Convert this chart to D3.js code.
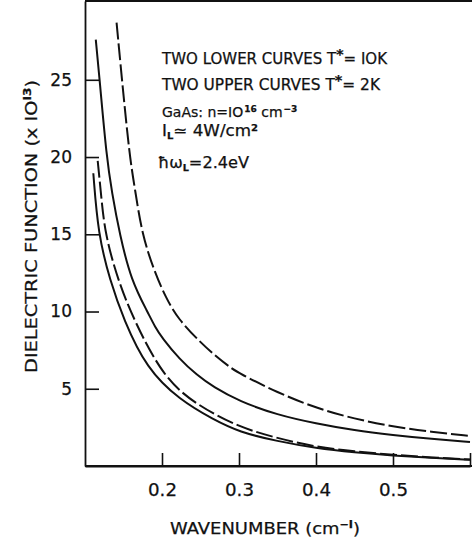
<!DOCTYPE html>
<head>
  <meta charset="utf-8">
  <title>Dielectric function vs wavenumber</title>
  <style>
    body { margin: 0; background: #fff; }
    svg text { font-family: "DejaVu Sans", Arial, sans-serif; fill: #111; stroke: #111; stroke-width: 0.25px; }
  </style>
  <script src="https://cdn.jsdelivr.net/npm/d3@7"></script>
</head>
<body>
  <script>
    // values (wavenumber in cm^-1, dielectric function x10^13)
    var upperDashX = [0.141, 0.148, 0.158, 0.165, 0.174, 0.19, 0.205, 0.221, 0.25, 0.27, 0.288, 0.3, 0.35, 0.4, 0.45, 0.5, 0.55, 0.6];
    var upperDashY = [28.7, 25, 20, 17.9, 15, 12.6, 10.9, 9.5, 8.0, 7.1, 6.4, 6.0, 4.75, 3.75, 3.05, 2.55, 2.2, 1.95];

    var upperSolidX = [0.114, 0.119, 0.128, 0.135, 0.145, 0.16, 0.182, 0.191, 0.2, 0.223, 0.245, 0.267, 0.3, 0.35, 0.4, 0.45, 0.5, 0.55, 0.6];
    var upperSolidY = [27.6, 25, 20, 17.7, 15, 12.0, 9.9, 9.0, 8.3, 6.9, 5.9, 5.1, 4.2, 3.3, 2.75, 2.3, 2.0, 1.75, 1.55];

    var lowerDashX = [0.1165, 0.121, 0.126, 0.143, 0.163, 0.202, 0.245, 0.3, 0.35, 0.4, 0.45, 0.5, 0.55, 0.6];
    var lowerDashY = [19.75, 17.5, 15, 12, 9.5, 5.7, 3.95, 2.5, 1.8, 1.22, 0.95, 0.72, 0.55, 0.42];

    var lowerSolidX = [0.1108, 0.117, 0.1325, 0.15, 0.18, 0.223, 0.267, 0.3, 0.35, 0.4, 0.45, 0.5, 0.55, 0.6];
    var lowerSolidY = [18.95, 15, 12, 9.5, 6.3, 4.27, 3.0, 2.2, 1.6, 1.15, 0.88, 0.68, 0.52, 0.4];

    var xTicks = [0.2, 0.3, 0.4, 0.5, 0.6];
    var yTicks = [5, 10, 15, 20, 25];

    var width = 472, height = 541;

    var svg = d3.select("body").append("svg")
      .attr("width", width)
      .attr("height", height);

    var xScale = d3.scaleLinear().domain([0.1, 0.6]).range([85, 470]);
    var yScale = d3.scaleLinear().domain([0, 30.1]).range([466, 1]);

    // axes, ticks pointing inward
    var xAxis = svg.append("g")
      .attr("transform", "translate(0,466)")
      .call(d3.axisBottom(xScale)
        .tickValues(xTicks)
        .tickSize(-13)
        .tickSizeOuter(0)
        .tickPadding(18)
        .tickFormat(d => d >= 0.6 ? "" : d3.format(".1f")(d)));

    var yAxis = svg.append("g")
      .attr("transform", "translate(85,0)")
      .call(d3.axisLeft(yScale)
        .tickValues(yTicks)
        .tickSize(-14)
        .tickSizeOuter(0)
        .tickPadding(13));

    [xAxis, yAxis].forEach(function (ax) {
      ax.select(".domain").attr("stroke", "#111").attr("stroke-width", 1.8);
      ax.selectAll(".tick line").attr("stroke", "#111").attr("stroke-width", 1.6);
      ax.selectAll(".tick text")
        .style("font-size", "17px")
        .style("font-family", "DejaVu Sans, Arial, sans-serif")
        .attr("fill", "#111");
    });
    xAxis.selectAll(".tick text").attr("textLength", 29).attr("lengthAdjust", "spacingAndGlyphs");

    // extend bottom axis to the edge, top frame line
    svg.append("line")
      .attr("x1", 85).attr("x2", width)
      .attr("y1", 466).attr("y2", 466)
      .attr("stroke", "#111").attr("stroke-width", 1.8);
    svg.append("line")
      .attr("x1", 85).attr("x2", width)
      .attr("y1", yScale(30.1)).attr("y2", yScale(30.1))
      .attr("stroke", "#111").attr("stroke-width", 2);

    var line = d3.line()
      .x(d => xScale(d[0]))
      .y(d => yScale(d[1]))
      .curve(d3.curveBasis);

    var curves = [
      {xs: upperDashX, ys: upperDashY, dash: "17,4"},
      {xs: upperSolidX, ys: upperSolidY, dash: null},
      {xs: lowerDashX, ys: lowerDashY, dash: "17,4"},
      {xs: lowerSolidX, ys: lowerSolidY, dash: null}
    ];

    curves.forEach(function (c) {
      var pts = c.xs.map((x, i) => [x, c.ys[i]]);
      svg.append("path")
        .datum(pts)
        .attr("d", line)
        .attr("fill", "none")
        .attr("stroke", "#111")
        .attr("stroke-width", 2)
        .attr("stroke-dasharray", c.dash);
    });

    // annotation
    var ann = svg.append("g").style("font-size", "15px");

    function fit(t, len) {
      t.attr("textLength", len).attr("lengthAdjust", "spacingAndGlyphs");
    }

    var t1 = ann.append("text").attr("x", 162).attr("y", 64);
    t1.append("tspan").text("TWO LOWER CURVES T");
    t1.append("tspan").attr("dy", -5).style("font-size", "14px").style("font-weight", "bold").text("*");
    t1.append("tspan").attr("dy", 5).text("= IOK");
    fit(t1, 225);

    var t2 = ann.append("text").attr("x", 162).attr("y", 90);
    t2.append("tspan").text("TWO UPPER CURVES T");
    t2.append("tspan").attr("dy", -5).style("font-size", "14px").style("font-weight", "bold").text("*");
    t2.append("tspan").attr("dy", 5).text("= 2K");
    fit(t2, 218);

    var t3 = ann.append("text").attr("x", 162).attr("y", 117).style("font-size", "14px");
    t3.append("tspan").text("GaAs: n=IO");
    t3.append("tspan").attr("dx", 1).attr("dy", -5).style("font-size", "9px").style("font-weight", "bold").text("16");
    t3.append("tspan").attr("dy", 5).text(" cm");
    t3.append("tspan").attr("dx", 1).attr("dy", -5).style("font-size", "9px").style("font-weight", "bold").text("−3");

    var t4 = ann.append("text").attr("x", 162).attr("y", 136);
    t4.append("tspan").text("I");
    t4.append("tspan").attr("dy", 3).style("font-size", "9px").style("font-weight", "bold").text("L");
    t4.append("tspan").attr("dy", -3).text("≃ 4W/cm");
    t4.append("tspan").attr("dy", -5).style("font-size", "9px").style("font-weight", "bold").text("2");
    fit(t4, 96);

    var t5 = ann.append("text").attr("x", 158).attr("y", 168);
    t5.append("tspan").text("ħω");
    t5.append("tspan").attr("dy", 3).style("font-size", "9px").style("font-weight", "bold").text("L");
    t5.append("tspan").attr("dy", -3).text("=2.4eV");
    fit(t5, 91);

    // axis titles
    var xt = svg.append("text")
      .attr("x", 170).attr("y", 534)
      .style("font-size", "16px");
    xt.append("tspan").text("WAVENUMBER (cm");
    xt.append("tspan").attr("dy", -6).style("font-size", "10px").style("font-weight", "bold").text("−I");
    xt.append("tspan").attr("dy", 6).text(")");
    fit(xt, 190);

    var yt = svg.append("text")
      .attr("transform", "translate(37,373) rotate(-90)")
      .style("font-size", "16px");
    yt.append("tspan").text("DIELECTRIC FUNCTION (x IO");
    yt.append("tspan").attr("dy", -6).style("font-size", "10px").style("font-weight", "bold").text("I3");
    yt.append("tspan").attr("dy", 6).text(")");
    fit(yt, 293);
  </script>
</body>
